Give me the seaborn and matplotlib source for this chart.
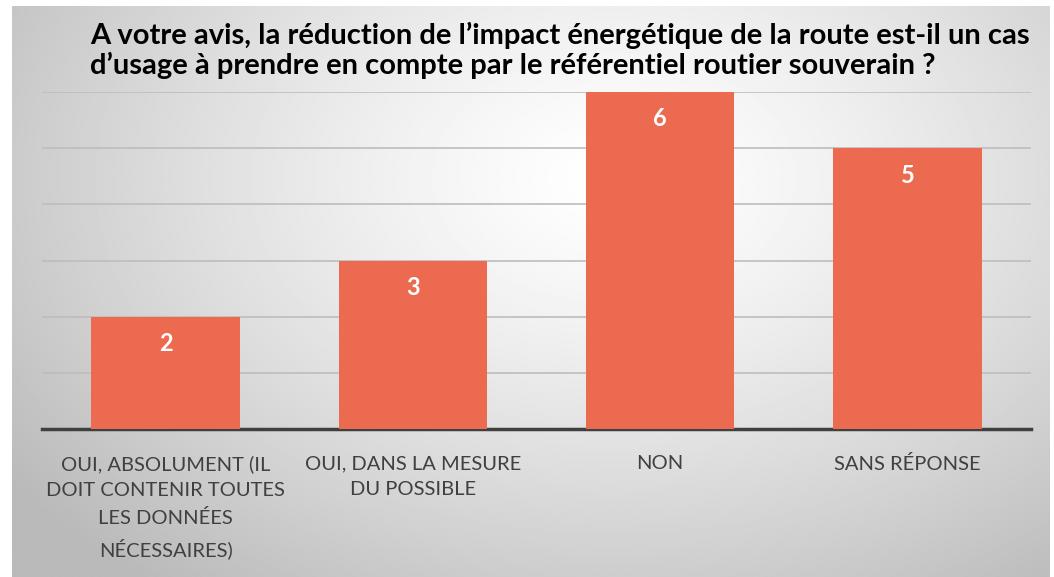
import numpy as np
import pandas as pd
import matplotlib
matplotlib.use("Agg")
import matplotlib.pyplot as plt
import seaborn as sns

categories = ["OUI, ABSOLUMENT (IL\nDOIT CONTENIR TOUTES\nLES DONNÉES\nNÉCESSAIRES)",
              "OUI, DANS LA MESURE\nDU POSSIBLE",
              "NON",
              "SANS RÉPONSE"]
counts = [2, 3, 6, 5]
title = ("A votre avis, la réduction de l’impact énergétique de la route est-il un cas\n"
         "d’usage à prendre en compte par le référentiel routier souverain ?")

df = pd.DataFrame({"reponse": categories, "nombre": counts})

sns.set_theme(style="white")
plt.rcParams["font.family"] = ["Lato", "DejaVu Sans"]

fig = plt.figure(figsize=(10.54, 5.77), dpi=100)

# radial grey-to-white background panel
bg = fig.add_axes([12 / 1054, 0, 1 - 16 / 1054, 1 - 6 / 577])
yy, xx = np.mgrid[0:1:300j, 0:1:600j]
d = np.sqrt(((xx - 0.58) / 0.72) ** 2 + ((yy - 0.3) / 0.9) ** 2)
shade = 1.0 - 0.27 * np.clip(d, 0, 1) ** 1.3
bg.imshow(shade, cmap="gray", vmin=0, vmax=1, aspect="auto", extent=[0, 1, 0, 1])
bg.axis("off")

ax = fig.add_axes([42 / 1054, 148 / 577, 989 / 1054, 337 / 577])
ax.patch.set_alpha(0)
sns.barplot(data=df, x="reponse", y="nombre", color="#EC6A50", width=0.6,
            saturation=1, linewidth=0, ax=ax, zorder=3)
ax.set_xlim(-0.5, 3.5)
ax.set_ylim(0, 6)
ax.set_yticks(range(0, 7))
ax.yaxis.grid(True, color="#BDBDBD", linewidth=1.2)
ax.set_axisbelow(True)
ax.tick_params(axis="y", left=False, labelleft=False)
ax.tick_params(axis="x", bottom=False, pad=13, labelsize=14.5, labelcolor="#404040")
for lbl in ax.get_xticklabels():
    lbl.set_linespacing(1.65)
    lbl.set_verticalalignment("top")
for s in ["top", "left", "right"]:
    ax.spines[s].set_visible(False)
ax.spines["bottom"].set_color("#404040")
ax.spines["bottom"].set_linewidth(2.5)
ax.set_xlabel("")
ax.set_ylabel("")

for i, v in enumerate(counts):
    ax.text(i, v - 0.48, str(v), ha="center", va="center", color="white",
            fontsize=17, fontweight="bold", zorder=4)

fig.text(90 / 1054, 1 - 22 / 577, title, ha="left", va="top", fontsize=21,
         fontweight="bold", color="black", linespacing=1.12)

fig.savefig("out.png", dpi=100)
